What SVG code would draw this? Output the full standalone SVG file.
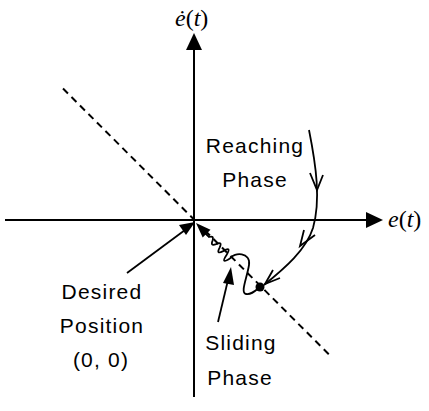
<svg xmlns="http://www.w3.org/2000/svg" width="429" height="411" viewBox="0 0 429 411">
<style>
.ax{stroke:#000;stroke-width:2;fill:none}
.ln{stroke:#000;stroke-width:1.8;fill:none}
.dash{stroke:#000;stroke-width:2;stroke-dasharray:7 5;fill:none}
.lbl{font-family:"Liberation Sans",Arial,sans-serif;font-size:21px;letter-spacing:1.2px;fill:#000;text-anchor:middle}
.math{font-family:"Liberation Serif","Times New Roman",serif;font-size:24px;fill:#000}
</style>
<g id="axes">
<line class="ax" x1="194" y1="48" x2="194" y2="397"/>
<polygon points="194,33 186,50 202,50"/>
<line class="ax" x1="5" y1="220" x2="368" y2="220"/>
<polygon points="383,220 366,212 366,228"/>
<text class="math" x="175" y="26"><tspan font-style="italic">ė</tspan>(<tspan font-style="italic">t</tspan>)</text>
<text class="math" x="388" y="227"><tspan font-style="italic">e</tspan>(<tspan font-style="italic">t</tspan>)</text>
</g>
<g id="sliding-surface">
<line class="dash" x1="63" y1="88.5" x2="194" y2="219.5"/>
<line class="dash" x1="205" y1="230.5" x2="329" y2="354.5"/>
</g>
<g id="connectors">
<path class="ln" d="M309,130 C316,165 321,200 313,228 C306,250 285,268 264,285"/>
<polyline class="ln" points="310,173 317,190 323,175"/>
<polyline class="ln" points="315,235 300,246 304,230"/>
<polyline class="ln" points="280,278 265,284 273,270"/>
<path class="ln" d="M205,233 L209,237 Q214.31,235.23 212.54,240.54 Q210.06,246.54 216.07,244.07 Q222.79,240.89 219.61,247.61 Q215.71,255.03 223.14,251.14 Q231.98,245.84 226.68,254.68 Q219.96,264.94 230.21,258.21 C234,252 251,252 249,265 C247,278 240,293 246,294 C251,295 255,291 260,287"/>
<polygon points="196,223 210.5,229.7 202.7,237.5"/>
<line class="ln" x1="127" y1="273" x2="185" y2="230"/>
<polygon points="195,222 179,225 186,235"/>
<line class="ln" x1="218" y1="322" x2="228" y2="280"/>
<polygon points="231,267 223,283 234,285"/>
</g>
<g id="endpoint"><circle cx="260" cy="287" r="4.5"/></g>
<g id="reaching-label">
<text class="lbl" x="255" y="153">Reaching</text>
<text class="lbl" x="255" y="187">Phase</text>
</g>
<g id="desired-label">
<text class="lbl" x="102" y="299">Desired</text>
<text class="lbl" x="102" y="333">Position</text>
<text class="lbl" x="101" y="367">(0, 0)</text>
</g>
<g id="sliding-label">
<text class="lbl" x="241" y="350">Sliding</text>
<text class="lbl" x="240" y="385">Phase</text>
</g>
</svg>
